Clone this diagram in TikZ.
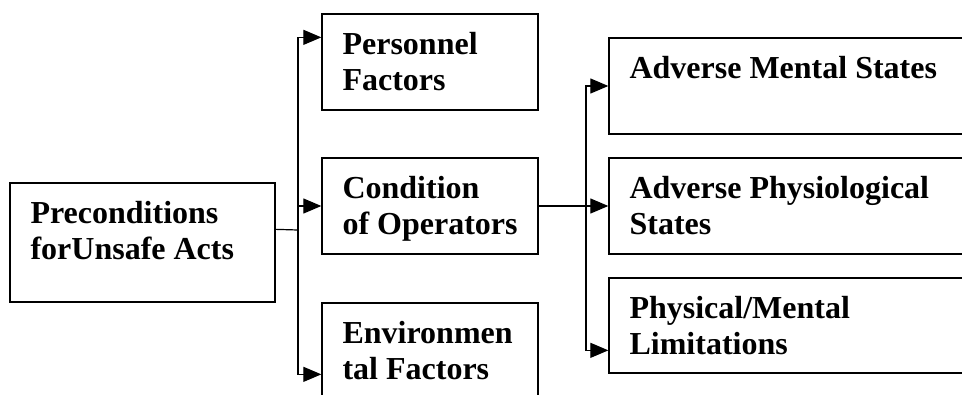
\documentclass[tikz,border=0pt]{standalone}
\usepackage{fontspec}
\setmainfont{Liberation Serif}
\usetikzlibrary{arrows.meta,calc}
\begin{document}
\begin{tikzpicture}[x=1pt,y=-1pt,
  box/.style={draw,line width=1.3pt,rectangle,inner sep=0pt},
  lbl/.style={anchor=north west,inner sep=0pt,align=left,font=\fontsize{32}{36.8}\selectfont\bfseries},
  conn/.style={line width=1.2pt},
  arr/.style={conn,-{Triangle[length=18pt,width=15pt]}}]
\useasboundingbox (0,0) rectangle (962,394);
\clip (0,0) rectangle (962,394);
% boxes
\node[box,minimum width=265pt,minimum height=119pt] (pre) at (142.5,242.5) {};
\node[box,minimum width=216pt,minimum height=96pt] (pers) at (430,62) {};
\node[box,minimum width=216pt,minimum height=96pt] (cond) at (430,206) {};
\node[box,minimum width=216pt,minimum height=97pt] (env) at (430,351.5) {};
\node[box,minimum width=371pt,minimum height=96pt] (ams) at (794.5,86) {};
\node[box,minimum width=371pt,minimum height=96pt] (aps) at (794.5,206) {};
\node[box,minimum width=371pt,minimum height=95pt] (pml) at (794.5,325.5) {};
% labels
\node[lbl] (tpre) at ($(pre.north west)+(21,18.3)$) {Preconditions\\forUnsafe Acts};
\node[lbl] (tpers) at ($(pers.north west)+(21,18.3)$) {Personnel\\Factors};
\node[lbl] (tcond) at ($(cond.north west)+(21,18.3)$) {Condition\\of Operators};
\node[lbl] (tenv) at ($(env.north west)+(21,18.3)$) {Environmen\\tal Factors};
\node[lbl] (tams) at ($(ams.north west)+(21,18.3)$) {Adverse Mental States};
\node[lbl] (taps) at ($(aps.north west)+(21,18.3)$) {Adverse Physiological\\States};
\node[lbl] (tpml) at ($(pml.north west)+(21,18.3)$) {Physical/Mental\\Limitations};
% junctions
\coordinate (preout) at ($(pre.north east)+(0,47)$);
\coordinate (j1) at (298,230);
\coordinate (j2) at (586,206);
% connectors
\draw[conn] (preout) -- (j1);
\draw[arr] (j1) |- ($(pers.north west)+(0,24)$);
\draw[arr] (j1) |- (cond.west);
\draw[arr] (j1) |- ($(env.north west)+(0,72)$);
\draw[conn] (cond.east) -- (j2);
\draw[arr] (j2) -- (aps.west);
\draw[arr] (j2) |- (ams.west);
\draw[arr] (j2) |- ($(pml.north west)+(0,73)$);
\end{tikzpicture}
\end{document}
